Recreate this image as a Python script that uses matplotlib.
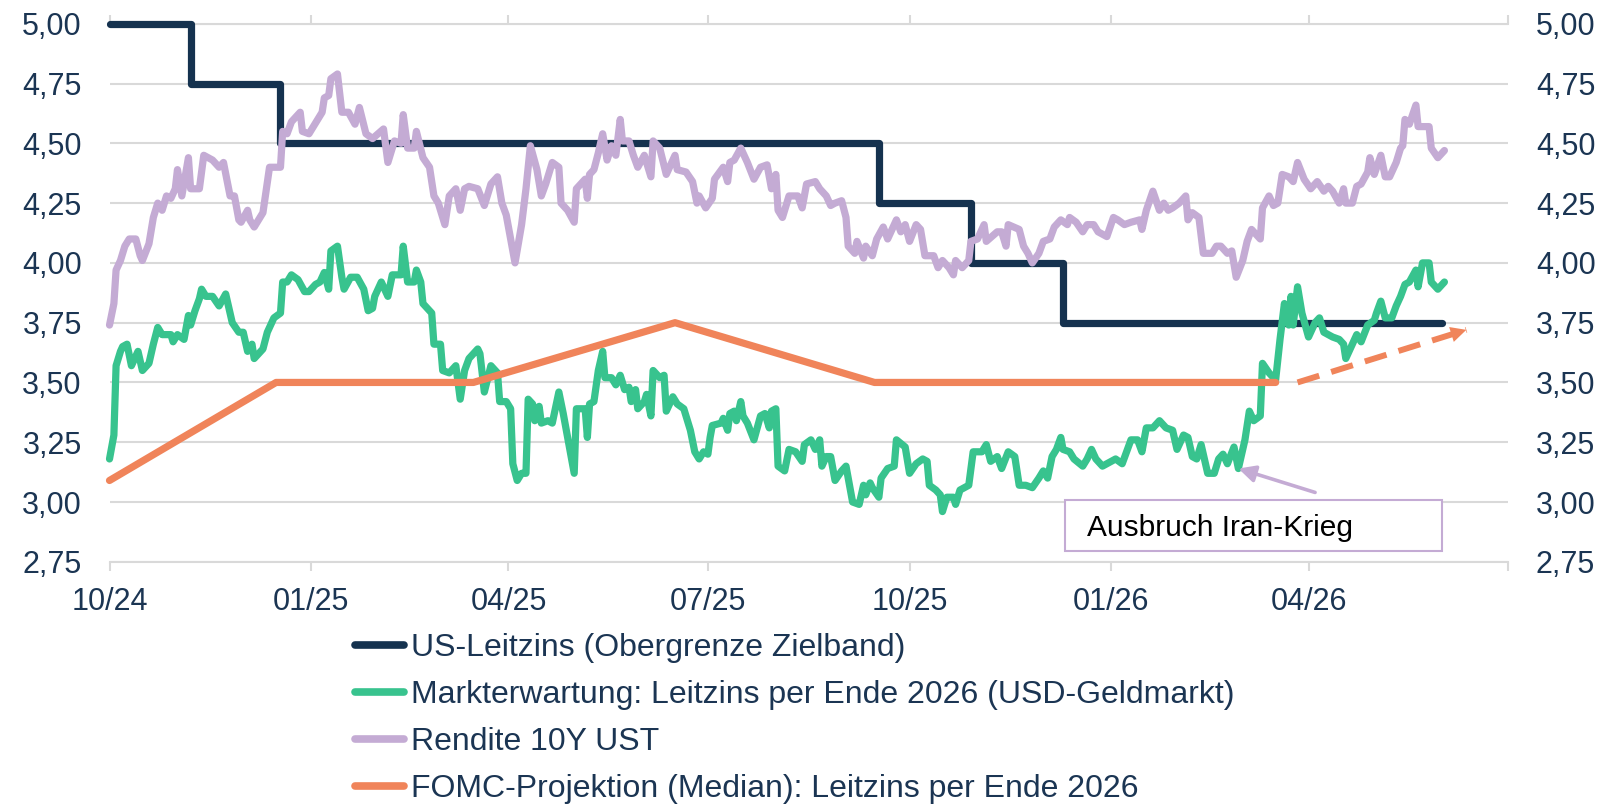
from matplotlib import pyplot as plt
from matplotlib.patches import Rectangle
from matplotlib.ticker import FuncFormatter
import matplotlib.dates as mdates
import numpy as np
import pandas as pd

plt.rcParams['font.family'] = ['Liberation Sans', 'DejaVu Sans']

START = pd.Timestamp('2024-10-01')
END = pd.Timestamp('2026-07-01')

NAVY = '#15324f'
GREEN = '#38c38e'
LILAC = '#c4abd4'
ORANGE = '#f0845a'
TEXT = '#1b3553'
GRID = '#d9d9d9'

### Daten
# US-Leitzins (Obergrenze Zielband)
fed_dates = ['2024-10-01', '2024-11-07', '2024-12-18', '2025-09-17',
             '2025-10-29', '2025-12-10', '2026-06-01']
fed_rate = [5.00, 4.75, 4.50, 4.25, 4.00, 3.75, 3.75]

# FOMC-Projektion (Median) fuer Ende 2026
fomc_dates = ['2024-10-01', '2024-12-16', '2025-03-16', '2025-06-16',
              '2025-09-15', '2026-03-17']
fomc_median = [3.09, 3.50, 3.50, 3.75, 3.50, 3.50]
fomc_trend_dates = ['2026-03-27', '2026-06-12']
fomc_trend = [3.50, 3.72]

# Rendite 10Y UST (Tage seit 01.10.2024)
ust_tage = [
    0, 2, 3, 5, 7, 9, 12, 14, 15, 18, 20, 22, 24, 26, 28, 30, 31, 33, 36, 37,
    41, 43, 47, 50, 52, 55, 57, 59, 60, 63, 64, 66, 70, 73, 78, 79, 81, 83, 87, 88,
    91, 93, 95, 97, 98, 100, 101, 104, 106, 109, 112, 114, 117, 120, 125, 127, 130, 133, 134, 136,
    139, 140, 143, 146, 148, 150, 153, 155, 158, 160, 162, 164, 168, 171, 174, 177, 179, 181, 183, 185,
    188, 190, 192, 195, 197, 199, 202, 205, 206, 209, 212, 213, 217, 218, 219, 221, 223, 225, 227, 229,
    231, 233, 234, 237, 239, 241, 244, 247, 248, 251, 254, 258, 259, 263, 266, 268, 269, 272, 275, 276,
    280, 282, 283, 285, 288, 291, 294, 297, 300, 302, 304, 305, 307, 310, 314, 316, 318, 322, 324, 327,
    329, 331, 334, 336, 337, 340, 341, 344, 345, 348, 350, 353, 355, 359, 361, 363, 365, 368, 370, 372,
    376, 378, 380, 383, 385, 386, 389, 392, 393, 396, 399, 400, 405, 407, 409, 410, 415, 417, 419, 421,
    424, 426, 429, 431, 434, 437, 438, 441, 444, 446, 449, 451, 455, 458, 460, 463, 466, 470, 471, 473,
    476, 479, 481, 483, 485, 488, 491, 492, 494, 497, 499, 503, 505, 507, 510, 512, 514, 517, 519, 521,
    525, 526, 529, 531, 533, 535, 538, 540, 542, 545, 548, 551, 554, 556, 558, 561, 563, 564, 567, 569,
    571, 574, 575, 577, 580, 582, 584, 587, 589, 590, 591, 593, 596, 597, 599, 602, 603, 606, 609]
ust_rendite = [
    3.74, 3.83, 3.97, 4.01, 4.07, 4.10, 4.10, 4.03, 4.01, 4.08, 4.19, 4.25, 4.22, 4.28, 4.27, 4.31, 4.39, 4.28, 4.44, 4.31,
    4.31, 4.45, 4.43, 4.40, 4.42, 4.28, 4.28, 4.18, 4.17, 4.22, 4.18, 4.15, 4.21, 4.40, 4.40, 4.55, 4.54, 4.59, 4.63, 4.55,
    4.54, 4.57, 4.60, 4.63, 4.69, 4.70, 4.77, 4.79, 4.63, 4.63, 4.58, 4.65, 4.54, 4.52, 4.56, 4.42, 4.51, 4.50, 4.62, 4.48,
    4.48, 4.55, 4.44, 4.40, 4.28, 4.25, 4.16, 4.28, 4.31, 4.22, 4.31, 4.32, 4.31, 4.24, 4.33, 4.36, 4.25, 4.20, 4.10, 4.00,
    4.16, 4.31, 4.49, 4.39, 4.28, 4.33, 4.42, 4.40, 4.25, 4.22, 4.17, 4.31, 4.35, 4.27, 4.37, 4.39, 4.46, 4.54, 4.43, 4.49,
    4.45, 4.60, 4.51, 4.51, 4.45, 4.40, 4.45, 4.36, 4.51, 4.48, 4.37, 4.45, 4.39, 4.38, 4.34, 4.25, 4.28, 4.23, 4.27, 4.35,
    4.40, 4.34, 4.42, 4.43, 4.48, 4.42, 4.35, 4.40, 4.41, 4.31, 4.37, 4.22, 4.19, 4.28, 4.28, 4.23, 4.33, 4.34, 4.31, 4.28,
    4.24, 4.25, 4.26, 4.19, 4.07, 4.04, 4.09, 4.02, 4.07, 4.03, 4.10, 4.15, 4.10, 4.18, 4.13, 4.16, 4.09, 4.16, 4.14, 4.03,
    4.03, 3.98, 4.01, 3.98, 3.95, 4.01, 3.98, 4.01, 4.09, 4.10, 4.16, 4.09, 4.13, 4.13, 4.07, 4.16, 4.14, 4.07, 4.04, 4.00,
    4.04, 4.09, 4.10, 4.15, 4.18, 4.16, 4.19, 4.17, 4.13, 4.16, 4.16, 4.13, 4.11, 4.19, 4.18, 4.16, 4.17, 4.18, 4.14, 4.22,
    4.30, 4.22, 4.25, 4.22, 4.23, 4.25, 4.28, 4.18, 4.21, 4.19, 4.04, 4.04, 4.07, 4.07, 4.04, 4.05, 3.94, 4.01, 4.09, 4.14,
    4.10, 4.23, 4.28, 4.24, 4.25, 4.37, 4.36, 4.34, 4.42, 4.35, 4.31, 4.34, 4.30, 4.32, 4.30, 4.25, 4.31, 4.25, 4.25, 4.32,
    4.33, 4.38, 4.44, 4.37, 4.45, 4.36, 4.36, 4.42, 4.48, 4.49, 4.60, 4.58, 4.66, 4.57, 4.57, 4.57, 4.48, 4.44, 4.47]

# Markterwartung: Leitzins per Ende 2026 (USD-Geldmarkt)
mkt_tage = [
    0, 2, 3, 5, 6, 8, 10, 13, 15, 18, 20, 22, 24, 28, 29, 31, 34, 36, 37, 39,
    41, 42, 44, 47, 50, 53, 55, 56, 59, 61, 63, 65, 66, 70, 72, 75, 78, 79, 81, 83,
    86, 89, 91, 94, 96, 98, 100, 101, 104, 106, 107, 110, 113, 116, 118, 120, 121, 124, 127, 129,
    133, 134, 136, 139, 140, 142, 143, 147, 148, 151, 152, 155, 158, 160, 162, 164, 168, 169, 171, 174,
    177, 178, 181, 183, 184, 186, 188, 190, 191, 193, 194, 196, 197, 200, 202, 205, 207, 209, 212, 213,
    217, 218, 219, 221, 223, 225, 226, 229, 231, 233, 235, 237, 238, 240, 241, 244, 245, 247, 248, 251,
    253, 254, 257, 259, 262, 265, 267, 269, 271, 273, 274, 275, 279, 280, 282, 283, 285, 286, 288, 289,
    291, 294, 297, 299, 301, 302, 304, 305, 308, 310, 313, 316, 317, 320, 322, 324, 325, 327, 329, 331,
    334, 336, 339, 342, 344, 345, 347, 348, 351, 352, 355, 358, 359, 363, 365, 368, 371, 373, 374, 377,
    379, 380, 382, 385, 386, 388, 392, 394, 398, 400, 402, 405, 407, 410, 413, 415, 418, 421, 424, 426,
    428, 430, 432, 434, 435, 438, 440, 444, 446, 448, 450, 453, 457, 459, 462, 466, 469, 471, 473, 476,
    479, 480, 482, 485, 487, 490, 492, 494, 496, 498, 501, 504, 506, 508, 510, 513, 515, 518, 520, 522,
    525, 526, 529, 532, 534, 536, 538, 539, 540, 542, 544, 547, 550, 552, 554, 556, 558, 561, 563, 564,
    567, 569, 571, 574, 577, 578, 580, 582, 585, 587, 589, 591, 593, 596, 597, 599, 602, 603, 606, 609]
mkt_erwartung = [
    3.18, 3.28, 3.57, 3.63, 3.65, 3.66, 3.57, 3.63, 3.55, 3.58, 3.66, 3.73, 3.70, 3.70, 3.67, 3.70, 3.68, 3.78, 3.74, 3.80,
    3.85, 3.89, 3.86, 3.86, 3.82, 3.87, 3.79, 3.75, 3.71, 3.71, 3.63, 3.66, 3.60, 3.64, 3.71, 3.77, 3.79, 3.92, 3.92, 3.95,
    3.93, 3.88, 3.88, 3.91, 3.92, 3.96, 3.89, 4.05, 4.07, 3.94, 3.89, 3.94, 3.94, 3.89, 3.80, 3.81, 3.86, 3.92, 3.86, 3.95,
    3.95, 4.07, 3.92, 3.92, 3.97, 3.92, 3.83, 3.79, 3.66, 3.66, 3.55, 3.54, 3.57, 3.43, 3.55, 3.60, 3.64, 3.62, 3.46, 3.57,
    3.54, 3.42, 3.42, 3.39, 3.16, 3.09, 3.12, 3.12, 3.43, 3.41, 3.34, 3.40, 3.33, 3.34, 3.33, 3.46, 3.37, 3.27, 3.12, 3.39,
    3.39, 3.27, 3.41, 3.42, 3.55, 3.63, 3.52, 3.52, 3.49, 3.53, 3.47, 3.48, 3.42, 3.47, 3.39, 3.42, 3.45, 3.36, 3.55, 3.52,
    3.53, 3.38, 3.44, 3.41, 3.39, 3.30, 3.21, 3.18, 3.21, 3.20, 3.27, 3.32, 3.33, 3.35, 3.30, 3.37, 3.38, 3.34, 3.42, 3.36,
    3.33, 3.26, 3.36, 3.37, 3.31, 3.38, 3.39, 3.15, 3.13, 3.22, 3.21, 3.17, 3.24, 3.26, 3.22, 3.26, 3.15, 3.19, 3.19, 3.09,
    3.13, 3.15, 3.00, 2.99, 3.07, 3.03, 3.08, 3.06, 3.02, 3.10, 3.14, 3.15, 3.26, 3.23, 3.12, 3.16, 3.18, 3.17, 3.07, 3.05,
    3.03, 2.96, 3.02, 3.02, 2.99, 3.05, 3.07, 3.21, 3.21, 3.24, 3.17, 3.19, 3.14, 3.21, 3.19, 3.07, 3.07, 3.06, 3.10, 3.13,
    3.10, 3.19, 3.22, 3.27, 3.22, 3.21, 3.18, 3.15, 3.18, 3.22, 3.18, 3.15, 3.17, 3.18, 3.16, 3.26, 3.26, 3.21, 3.31, 3.31,
    3.34, 3.33, 3.31, 3.30, 3.22, 3.28, 3.27, 3.19, 3.18, 3.24, 3.12, 3.12, 3.18, 3.20, 3.16, 3.23, 3.14, 3.26, 3.38, 3.34,
    3.36, 3.58, 3.54, 3.51, 3.68, 3.83, 3.74, 3.86, 3.74, 3.90, 3.79, 3.69, 3.75, 3.77, 3.71, 3.70, 3.69, 3.68, 3.66, 3.60,
    3.66, 3.70, 3.67, 3.74, 3.76, 3.79, 3.84, 3.77, 3.77, 3.82, 3.86, 3.91, 3.92, 3.97, 3.90, 4.00, 4.00, 3.92, 3.89, 3.92]

# Annotation "Ausbruch Iran-Krieg"
event_date = '2026-02-28'
event_value = 3.14
note_tail = ('2026-04-04', 3.04)
note_box = ('2025-12-11', '2026-06-01', 2.797, 3.008)
note_text_pos = ('2025-12-21', 2.89)

y_ticks = [2.75, 3.00, 3.25, 3.50, 3.75, 4.00, 4.25, 4.50, 4.75, 5.00]
x_ticks = ['2024-10-01', '2025-01-01', '2025-04-01', '2025-07-01', '2025-10-01',
           '2026-01-01', '2026-04-01', '2026-07-01']

labels = ['US-Leitzins (Obergrenze Zielband)',
          'Markterwartung: Leitzins per Ende 2026 (USD-Geldmarkt)',
          'Rendite 10Y UST',
          'FOMC-Projektion (Median): Leitzins per Ende 2026']


def to_dates(tage):
    return START + pd.to_timedelta(tage, unit='D')


### Plot
fig = plt.figure(figsize=(16.01, 8.06), dpi=100)
ax = fig.add_axes([0.0684, 0.3030, 0.8735, 0.6675])

line_kw = dict(lw=5.2, solid_capstyle='round', solid_joinstyle='round', clip_on=False)
ax.plot(pd.to_datetime(fed_dates), fed_rate, drawstyle='steps-post', color=NAVY,
        label=labels[0], zorder=3, **line_kw)
ax.plot(to_dates(mkt_tage), mkt_erwartung, color=GREEN, label=labels[1], zorder=4, **line_kw)
ax.plot(to_dates(ust_tage), ust_rendite, color=LILAC, label=labels[2], zorder=4, **line_kw)
ax.plot(pd.to_datetime(fomc_dates), fomc_median, color=ORANGE, label=labels[3], zorder=5, **line_kw)

# gestrichelter Pfeil: Tendenz FOMC-Projektion
trend_x = pd.to_datetime(fomc_trend_dates)
ax.plot(trend_x, fomc_trend, color=ORANGE, lw=4.3, linestyle=(0, (3.8, 2.1)),
        dash_capstyle='butt', zorder=5)
ax.annotate('', xy=(trend_x[1], fomc_trend[1]), xytext=(trend_x[0], fomc_trend[0]),
            arrowprops=dict(arrowstyle='-|>', color=ORANGE, lw=0, mutation_scale=28,
                            shrinkA=0, shrinkB=0), zorder=6, annotation_clip=False)

# Annotation
x0 = mdates.date2num(pd.Timestamp(note_box[0]))
x1 = mdates.date2num(pd.Timestamp(note_box[1]))
ax.add_patch(Rectangle((x0, note_box[2]), x1 - x0, note_box[3] - note_box[2],
                       facecolor='white', edgecolor=LILAC, lw=1.5, zorder=6))
ax.text(pd.Timestamp(note_text_pos[0]), note_text_pos[1], 'Ausbruch Iran-Krieg',
        fontsize=21.5, color='black', ha='left', va='center', zorder=7)
ax.annotate('', xy=(pd.Timestamp(event_date), event_value),
            xytext=(pd.Timestamp(note_tail[0]), note_tail[1]),
            arrowprops=dict(arrowstyle='-|>', color=LILAC, lw=2.6, mutation_scale=25,
                            shrinkA=0, shrinkB=0), zorder=7)

### Achsen
ax.set_xlim(START, END)
ax.set_ylim(2.75, 5.0)
ax.set_yticks(y_ticks)
ax.yaxis.set_major_formatter(FuncFormatter(lambda v, p: f'{v:.2f}'.replace('.', ',')))
xt = pd.to_datetime(x_ticks)
ax.set_xticks(xt)
ax.set_xticklabels([d.strftime('%m/%y') for d in xt[:-1]] + [''])

ax.grid(axis='y', color=GRID, lw=1.5)
ax.set_axisbelow(True)
for side in ['left', 'right']:
    ax.spines[side].set_visible(False)
for side in ['top', 'bottom']:
    ax.spines[side].set_color(GRID)
    ax.spines[side].set_linewidth(1.5)

ax.tick_params(axis='x', direction='out', length=6.5, width=1.5, color=GRID,
               top=True, bottom=True, labelsize=22, labelcolor=TEXT, pad=11.5)
ax.tick_params(axis='y', length=0, labelsize=22, labelcolor=TEXT, pad=20,
               left=True, right=True, labelleft=True, labelright=True)

leg = fig.legend(loc='upper left', bbox_to_anchor=(0.2217, 0.2150), frameon=False,
                 fontsize=23, handlelength=1.55, handletextpad=0.2, labelspacing=0.535,
                 borderpad=0, borderaxespad=0)
for t in leg.get_texts():
    t.set_color(TEXT)
for h in leg.get_lines():
    h.set_linewidth(5.5)

fig.savefig('out.png', dpi=100)
